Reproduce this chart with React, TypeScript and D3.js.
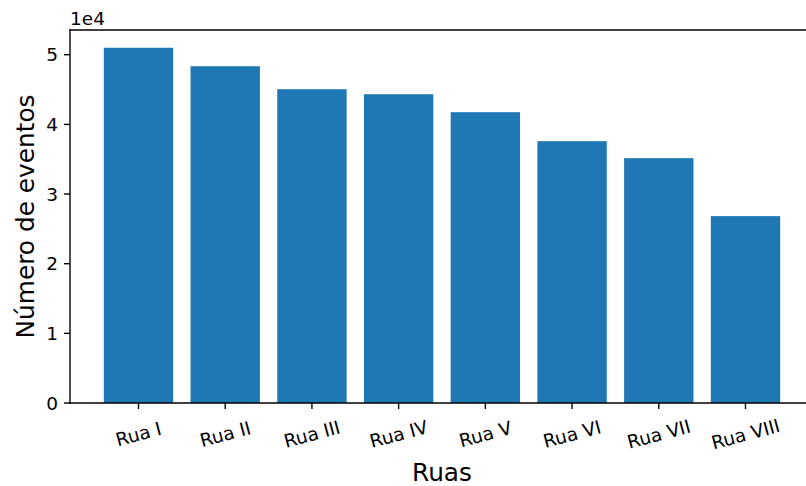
import React, { useEffect, useRef } from "react";
import * as d3 from "d3";

const categories = ["Rua I", "Rua II", "Rua III", "Rua IV", "Rua V", "Rua VI", "Rua VII", "Rua VIII"];
const values = [51000, 48350, 45050, 44330, 41750, 37590, 35150, 26830];
const yTicks = [0, 1, 2, 3, 4, 5];
const yLabel = "Número de eventos";
const xLabel = "Ruas";
const offsetText = "1e4";

const W = 806;
const H = 486;
const left = 70;
const right = 814;
const top = 30;
const bottom = 403;
const FONT = "DejaVu Sans, sans-serif";
const color = "#1f77b4";
const TICK_FS = 18.5;
const LABEL_FS = 24.8;

export default function App() {
  const ref = useRef<SVGSVGElement>(null);
  useEffect(() => {
    const svg = d3.select(ref.current);
    svg.selectAll("*").remove();
    const n = categories.length;
    const span = n - 1 + 0.8;
    const xs = d3.scaleLinear().domain([-0.4 - span * 0.05, n - 1 + 0.4 + span * 0.05]).range([left, right]);
    const ymax = (d3.max(values) as number) * 1.05;
    const ys = d3.scaleLinear().domain([0, ymax]).range([bottom, top]);

    svg.selectAll("rect.bar")
      .data(values)
      .enter()
      .append("rect")
      .attr("x", (_, i) => xs(i - 0.4))
      .attr("width", xs(0.4) - xs(-0.4))
      .attr("y", (d) => ys(d))
      .attr("height", (d) => ys(0) - ys(d))
      .attr("fill", color);

    const lw = 1.39;
    const g = svg.append("g").attr("stroke", "#000").attr("stroke-width", lw).attr("fill", "none");
    g.append("line").attr("x1", left).attr("x2", left).attr("y1", top).attr("y2", bottom).attr("stroke-linecap", "square");
    g.append("line").attr("x1", left).attr("x2", right).attr("y1", bottom).attr("y2", bottom).attr("stroke-linecap", "square");
    g.append("line").attr("x1", left).attr("x2", right).attr("y1", top).attr("y2", top).attr("stroke-linecap", "square");
    g.append("line").attr("x1", right).attr("x2", right).attr("y1", top).attr("y2", bottom);

    const tl = 6;
    yTicks.forEach((t) => {
      const y = ys(t * 1e4);
      svg.append("line").attr("x1", left - tl).attr("x2", left).attr("y1", y).attr("y2", y)
        .attr("stroke", "#000").attr("stroke-width", lw);
      svg.append("text").attr("x", left - tl - 6).attr("y", y + 6.6)
        .attr("text-anchor", "end").attr("font-family", FONT).attr("font-size", TICK_FS)
        .attr("fill", "#000").text(String(t));
    });
    categories.forEach((c, i) => {
      const xx = xs(i);
      svg.append("line").attr("x1", xx).attr("x2", xx).attr("y1", bottom).attr("y2", bottom + tl)
        .attr("stroke", "#000").attr("stroke-width", lw);
      const cy = 434;
      svg.append("text").attr("x", xx).attr("y", cy + 6.7)
        .attr("text-anchor", "middle").attr("font-family", FONT).attr("font-size", TICK_FS)
        .attr("fill", "#000").attr("transform", `rotate(-15, ${xx}, ${cy})`).text(c);
    });
    svg.append("text").attr("x", left).attr("y", 24.5).attr("font-family", FONT).attr("font-size", TICK_FS)
      .attr("fill", "#000").text(offsetText);
    svg.append("text").attr("x", (left + right) / 2).attr("y", 481)
      .attr("text-anchor", "middle").attr("font-family", FONT).attr("font-size", LABEL_FS)
      .attr("fill", "#000").text(xLabel);
    const ly = (top + bottom) / 2;
    svg.append("text").attr("x", 0).attr("y", 0)
      .attr("transform", `translate(33.5, ${ly}) rotate(-90)`)
      .attr("text-anchor", "middle").attr("font-family", FONT).attr("font-size", LABEL_FS)
      .attr("fill", "#000").text(yLabel);
  }, []);
  return (
    <svg ref={ref} width={W} height={H} style={{ position: "absolute", left: 0, top: 0, background: "#fff" }} />
  );
}
